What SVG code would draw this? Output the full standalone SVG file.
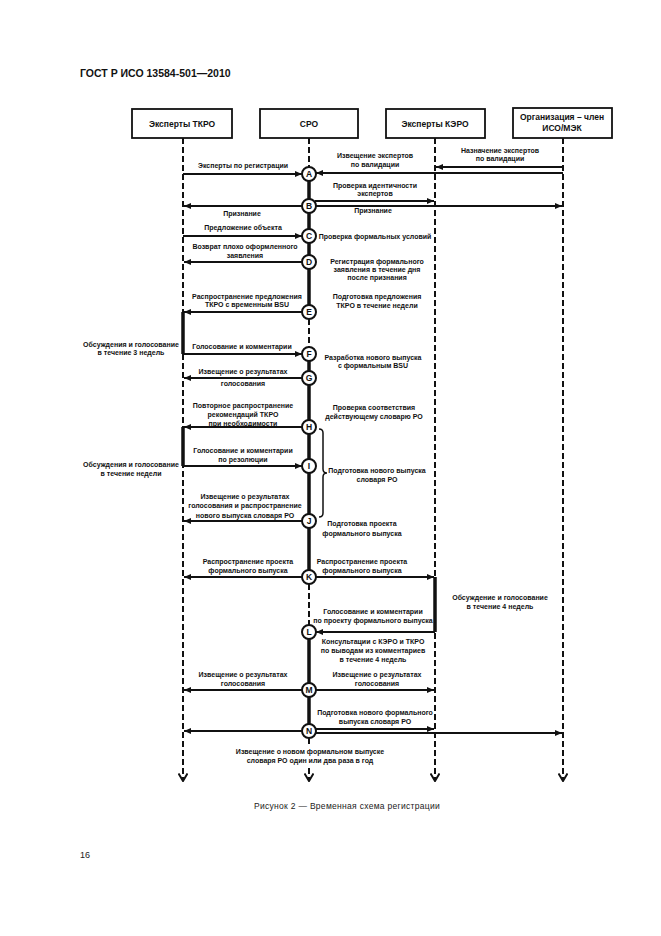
<svg xmlns="http://www.w3.org/2000/svg" width="661" height="936" viewBox="0 0 661 936">
<style>
.t{font-family:"Liberation Sans",Arial,sans-serif;font-size:7px;font-weight:bold;fill:#111;text-anchor:middle}
.h{font-family:"Liberation Sans",Arial,sans-serif;font-size:8.5px;font-weight:bold;fill:#111;text-anchor:middle}
.box{fill:#fff;stroke:#111;stroke-width:1.8}
.life{stroke:#111;stroke-width:2;stroke-dasharray:6 3;fill:none}
.thick{stroke:#111;stroke-width:3.5;fill:none}
.ln{stroke:#111;stroke-width:1.5;fill:none}
.arr{stroke:#111;stroke-width:1.8;fill:none;marker-end:url(#ah)}
.c{fill:#fff;stroke:#111;stroke-width:2}
.cl{font-family:"Liberation Sans",Arial,sans-serif;font-size:8.5px;font-weight:bold;fill:#111;text-anchor:middle}
</style>
<defs>
<marker id="ah" markerUnits="userSpaceOnUse" markerWidth="7" markerHeight="6" refX="7" refY="3" orient="auto">
<path d="M0,0 L7,3 L0,6 z" fill="#111"/>
</marker>
<marker id="dn" markerUnits="userSpaceOnUse" markerWidth="10" markerHeight="9" refX="5" refY="8" orient="0">
<path d="M0.5,0.5 L5,8 L9.5,0.5" fill="none" stroke="#111" stroke-width="2"/>
</marker>
</defs>
<rect width="661" height="936" fill="#fff"/>
<text x="80" y="77" font-family="Liberation Sans,Arial,sans-serif" font-size="10.5" font-weight="bold" fill="#111">ГОСТ Р ИСО 13584-501—2010</text>

<g id="tkro">
<rect class="box" x="132" y="109" width="100" height="29"/>
<text class="h" x="182" y="127">Эксперты ТКРО</text>
</g>
<g id="sro">
<rect class="box" x="260" y="109" width="98" height="29"/>
<text class="h" x="309" y="127">СРО</text>
</g>
<g id="kero">
<rect class="box" x="386" y="109" width="99" height="29"/>
<text class="h" x="435" y="127">Эксперты КЭРО</text>
</g>
<g id="org">
<rect class="box" x="513" y="108" width="99" height="30"/>
<text class="h" x="562" y="120">Организация – член</text>
<text class="h" x="562" y="131">ИСО/МЭК</text>
</g>

<g id="lifelines">
<line class="life" x1="183" y1="138" x2="183" y2="781" marker-end="url(#dn)"/>
<line class="life" x1="435" y1="138" x2="435" y2="781" marker-end="url(#dn)"/>
<line class="life" x1="563" y1="138" x2="563" y2="781" marker-end="url(#dn)"/>
<line class="life" x1="309" y1="138" x2="309" y2="167"/>
<line class="thick" x1="309" y1="181" x2="309" y2="305"/>
<line class="life" x1="309" y1="319" x2="309" y2="347"/>
<line class="thick" x1="309" y1="361" x2="309" y2="570"/>
<line class="life" x1="309" y1="584" x2="309" y2="625"/>
<line class="thick" x1="309" y1="639" x2="309" y2="724"/>
<line class="life" x1="309" y1="738" x2="309" y2="746"/>
<line class="life" x1="309" y1="768" x2="309" y2="781" marker-end="url(#dn)"/>
<line class="thick" x1="183" y1="312" x2="183" y2="354"/>
<line class="thick" x1="183" y1="427" x2="183" y2="466"/>
<line class="thick" x1="435" y1="577" x2="435" y2="632"/>
</g>

<g id="connectors">
<line class="arr" x1="183" y1="174" x2="302" y2="174"/>
<line class="arr" x1="563" y1="173" x2="316" y2="173"/>
<line class="arr" x1="563" y1="167" x2="436" y2="167"/>
<line class="arr" x1="315" y1="201" x2="434" y2="201"/>
<line class="arr" x1="316" y1="206" x2="562" y2="206"/>
<line class="arr" x1="302" y1="206" x2="184" y2="206"/>
<line class="arr" x1="183" y1="236" x2="302" y2="236"/>
<line class="arr" x1="302" y1="262" x2="184" y2="262"/>
<line class="arr" x1="302" y1="312" x2="184" y2="312"/>
<line class="arr" x1="183" y1="354" x2="302" y2="354"/>
<line class="arr" x1="302" y1="378" x2="184" y2="378"/>
<line class="arr" x1="302" y1="427" x2="184" y2="427"/>
<line class="arr" x1="183" y1="466" x2="302" y2="466"/>
<line class="arr" x1="302" y1="521" x2="184" y2="521"/>
<line class="arr" x1="302" y1="577" x2="184" y2="577"/>
<line class="arr" x1="316" y1="577" x2="434" y2="577"/>
<line class="arr" x1="435" y1="632" x2="316" y2="632"/>
<line class="arr" x1="302" y1="690" x2="184" y2="690"/>
<line class="arr" x1="316" y1="690" x2="434" y2="690"/>
<line class="arr" x1="302" y1="731" x2="184" y2="731"/>
<line class="arr" x1="315" y1="729" x2="434" y2="729"/>
<line class="arr" x1="316" y1="733" x2="562" y2="733"/>
<path class="ln" d="M319,429 Q323,429 323,433 L323,469 Q323,473 327,473 Q323,473 323,477 L323,513 Q323,517 319,517"/>
</g>

<g id="A"><circle class="c" cx="309" cy="174" r="7"/><text class="cl" x="309" y="177">A</text></g>
<g id="B"><circle class="c" cx="309" cy="206" r="7"/><text class="cl" x="309" y="209">B</text></g>
<g id="C"><circle class="c" cx="309" cy="236" r="7"/><text class="cl" x="309" y="239">C</text></g>
<g id="D"><circle class="c" cx="309" cy="262" r="7"/><text class="cl" x="309" y="265">D</text></g>
<g id="E"><circle class="c" cx="309" cy="312" r="7"/><text class="cl" x="309" y="315">E</text></g>
<g id="F"><circle class="c" cx="309" cy="354" r="7"/><text class="cl" x="309" y="357">F</text></g>
<g id="G"><circle class="c" cx="309" cy="378" r="7"/><text class="cl" x="309" y="381">G</text></g>
<g id="H"><circle class="c" cx="309" cy="427" r="7"/><text class="cl" x="309" y="430">H</text></g>
<g id="I"><circle class="c" cx="309" cy="466" r="7"/><text class="cl" x="309" y="469">I</text></g>
<g id="J"><circle class="c" cx="309" cy="521" r="7"/><text class="cl" x="309" y="524">J</text></g>
<g id="K"><circle class="c" cx="309" cy="577" r="7"/><text class="cl" x="309" y="580">K</text></g>
<g id="L"><circle class="c" cx="309" cy="632" r="7"/><text class="cl" x="309" y="635">L</text></g>
<g id="M"><circle class="c" cx="309" cy="690" r="7"/><text class="cl" x="309" y="693">M</text></g>
<g id="N"><circle class="c" cx="309" cy="731" r="7"/><text class="cl" x="309" y="734">N</text></g>

<g id="labels">
<text class="t" x="500" y="153">Назначение экспертов</text>
<text class="t" x="500" y="161">по валидации</text>
<text class="t" x="243" y="168">Эксперты по регистрации</text>
<text class="t" x="375" y="158">Извещение экспертов</text>
<text class="t" x="375" y="167">по валидации</text>
<text class="t" x="375" y="188">Проверка идентичности</text>
<text class="t" x="375" y="196">экспертов</text>
<text class="t" x="242" y="216">Признание</text>
<text class="t" x="373" y="213">Признание</text>
<text class="t" x="243" y="230">Предложение объекта</text>
<text class="t" x="375" y="239">Проверка формальных условий</text>
<text class="t" x="245" y="249">Возврат плохо оформленного</text>
<text class="t" x="245" y="258">заявления</text>
<text class="t" x="377" y="264">Регистрация формального</text>
<text class="t" x="377" y="272">заявления в течение дня</text>
<text class="t" x="377" y="280">после признания</text>
<text class="t" x="247" y="299">Распространение предложения</text>
<text class="t" x="247" y="307">ТКРО с временным BSU</text>
<text class="t" x="377" y="299">Подготовка предложения</text>
<text class="t" x="377" y="308">ТКРО в течение недели</text>
<text class="t" x="131" y="347">Обсуждения и голосование</text>
<text class="t" x="131" y="355">в течение 3 недель</text>
<text class="t" x="242" y="349">Голосование и комментарии</text>
<text class="t" x="373" y="360">Разработка нового выпуска</text>
<text class="t" x="373" y="368">с формальным BSU</text>
<text class="t" x="243" y="374">Извещение о результатах</text>
<text class="t" x="243" y="386">голосования</text>
<text class="t" x="374" y="410">Проверка соответствия</text>
<text class="t" x="374" y="419">действующему словарю РО</text>
<text class="t" x="243" y="408">Повторное распространение</text>
<text class="t" x="243" y="417">рекомендаций ТКРО</text>
<text class="t" x="243" y="426">при необходимости</text>
<text class="t" x="243" y="453">Голосование и комментарии</text>
<text class="t" x="243" y="462">по резолюции</text>
<text class="t" x="131" y="467">Обсуждения и голосование</text>
<text class="t" x="131" y="476">в течение недели</text>
<text class="t" x="377" y="473">Подготовка нового выпуска</text>
<text class="t" x="377" y="482">словаря РО</text>
<text class="t" x="245" y="499">Извещение о результатах</text>
<text class="t" x="245" y="508">голосования и распространение</text>
<text class="t" x="245" y="518">нового выпуска словаря РО</text>
<text class="t" x="362" y="526">Подготовка проекта</text>
<text class="t" x="362" y="536">формального выпуска</text>
<text class="t" x="248" y="564">Распространение проекта</text>
<text class="t" x="248" y="573">формального выпуска</text>
<text class="t" x="362" y="564">Распространение проекта</text>
<text class="t" x="362" y="573">формального выпуска</text>
<text class="t" x="500" y="600">Обсуждение и голосование</text>
<text class="t" x="500" y="609">в течение 4 недель</text>
<text class="t" x="373" y="614">Голосование и комментарии</text>
<text class="t" x="373" y="623">по проекту формального выпуска</text>
<text class="t" x="373" y="644">Консультации с КЭРО и ТКРО</text>
<text class="t" x="373" y="653">по выводам из комментариев</text>
<text class="t" x="373" y="662">в течение 4 недель</text>
<text class="t" x="243" y="677">Извещение о результатах</text>
<text class="t" x="243" y="686">голосования</text>
<text class="t" x="377" y="677">Извещение о результатах</text>
<text class="t" x="377" y="686">голосования</text>
<text class="t" x="375" y="715">Подготовка нового формального</text>
<text class="t" x="375" y="724">выпуска словаря РО</text>
<text class="t" x="310" y="754">Извещение о новом формальном выпуске</text>
<text class="t" x="310" y="763">словаря РО один или два раза в год</text>
</g>

<text x="347" y="809" font-family="Liberation Sans,Arial,sans-serif" font-size="8.5" letter-spacing="0.3" fill="#222" text-anchor="middle">Рисунок 2 — Временная схема регистрации</text>
<text x="80" y="858" font-family="Liberation Sans,Arial,sans-serif" font-size="9" fill="#222">16</text>
</svg>
